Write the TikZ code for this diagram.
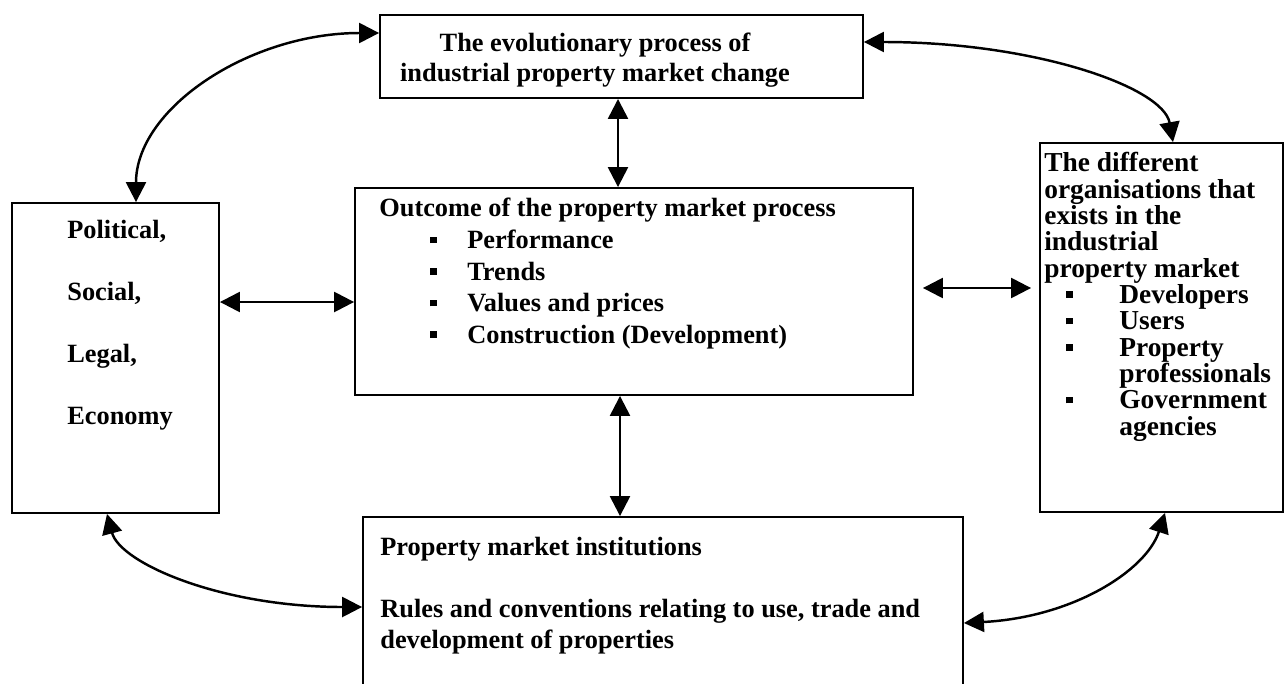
\documentclass[tikz,border=0pt]{standalone}
\usepackage{fontspec}
\setmainfont{Liberation Serif}
\usetikzlibrary{arrows.meta,positioning}
\tikzset{box/.style={draw, line width=1.1pt, inner sep=0pt},
    txt/.style={inner sep=0pt, anchor=north west, align=left, font=\fontsize{15}{18}\selectfont\bfseries},
    link/.style={line width=1.4pt, {Triangle[length=0.4cm,width=0.4cm]}-{Triangle[length=0.4cm,width=0.4cm]}}}
\newcommand{\sqb}{\rule[0.11cm]{0.13cm}{0.13cm}}
\newcommand{\bul}[2]{\hspace*{#1}\makebox[#2][l]{\sqb}}

\begin{document}
\begin{tikzpicture}[x=0.02cm, y=-0.02cm]
    \clip (0,0) rectangle (1287,683);

    \node (evol) at (621.5,56.5) [box, minimum width=9.66cm, minimum height=1.66cm] {};
    \node (outcome) at (634,291.5) [box, minimum width=11.16cm, minimum height=4.14cm] {};
    \node (pest) at (115.5,358) [box, minimum width=4.14cm, minimum height=6.2cm] {};
    \node (orgs) at (1161.5,327.5) [box, minimum width=4.86cm, minimum height=7.38cm] {};
    \node (inst) at (663,628.5) [box, minimum width=12cm, minimum height=4.46cm] {};

    \node (evoltext) at (595,33) [txt, anchor=north, align=center, font=\fontsize{15}{17}\selectfont\bfseries]
        {The evolutionary process of\\industrial property market change};
    \node (outcometext) at (379,198) [txt]
        {Outcome of the property market process\\
         \bul{1.02cm}{0.74cm}Performance\\
         \bul{1.02cm}{0.74cm}Trends\\
         \bul{1.02cm}{0.74cm}Values and prices\\
         \bul{1.02cm}{0.74cm}Construction (Development)};
    \node (pesttext) at (67,220) [txt, font=\fontsize{15}{35.2}\selectfont\bfseries]
        {Political,\\Social,\\Legal,\\Economy};
    \node (orgstext) at (1044,152) [txt, font=\fontsize{15.6}{15}\selectfont\bfseries]
        {The different\\organisations that\\exists in the\\industrial\\property market\\
         \bul{0.44cm}{1.06cm}Developers\\
         \bul{0.44cm}{1.06cm}Users\\
         \bul{0.44cm}{1.06cm}Property\\
         \hspace*{1.5cm}professionals\\
         \bul{0.44cm}{1.06cm}Government\\
         \hspace*{1.5cm}agencies};
    \node (insttext) at (380,537) [txt, font=\fontsize{15}{17.6}\selectfont\bfseries]
        {Property market institutions\\[0.62cm]
         Rules and conventions relating to use, trade and\\development of properties};

    \draw (evol.south -| 618,0) edge[link] (outcome.north -| 618,0);
    \draw (outcome.south -| 620,0) edge[link] (inst.north -| 620,0);
    \draw (pest.east |- 0,302) edge[link] (outcome.west |- 0,302);
    \draw (outcome.east |- 0,288) edge[link, shorten <=0.18cm, shorten >=0.16cm] (orgs.west |- 0,288);

    \draw (evol.west |- 0,33) edge[link, out=180, in=90, out distance=2.6cm, in distance=1.87cm] (pest.north -| 136,0);
    \draw (evol.east |- 0,42) edge[link, out=0, in=100, out distance=3.4cm, in distance=1.12cm] (orgs.north -| 1173,0);
    \draw (pest.south -| 107,0) edge[link, out=-75, in=180, out distance=1.02cm, in distance=2.82cm] (inst.west |- 0,607);
    \draw (inst.east |- 0,623) edge[link, out=3, in=-108, out distance=2.19cm, in distance=1.21cm] (orgs.south -| 1165,0);
\end{tikzpicture}
\end{document}
